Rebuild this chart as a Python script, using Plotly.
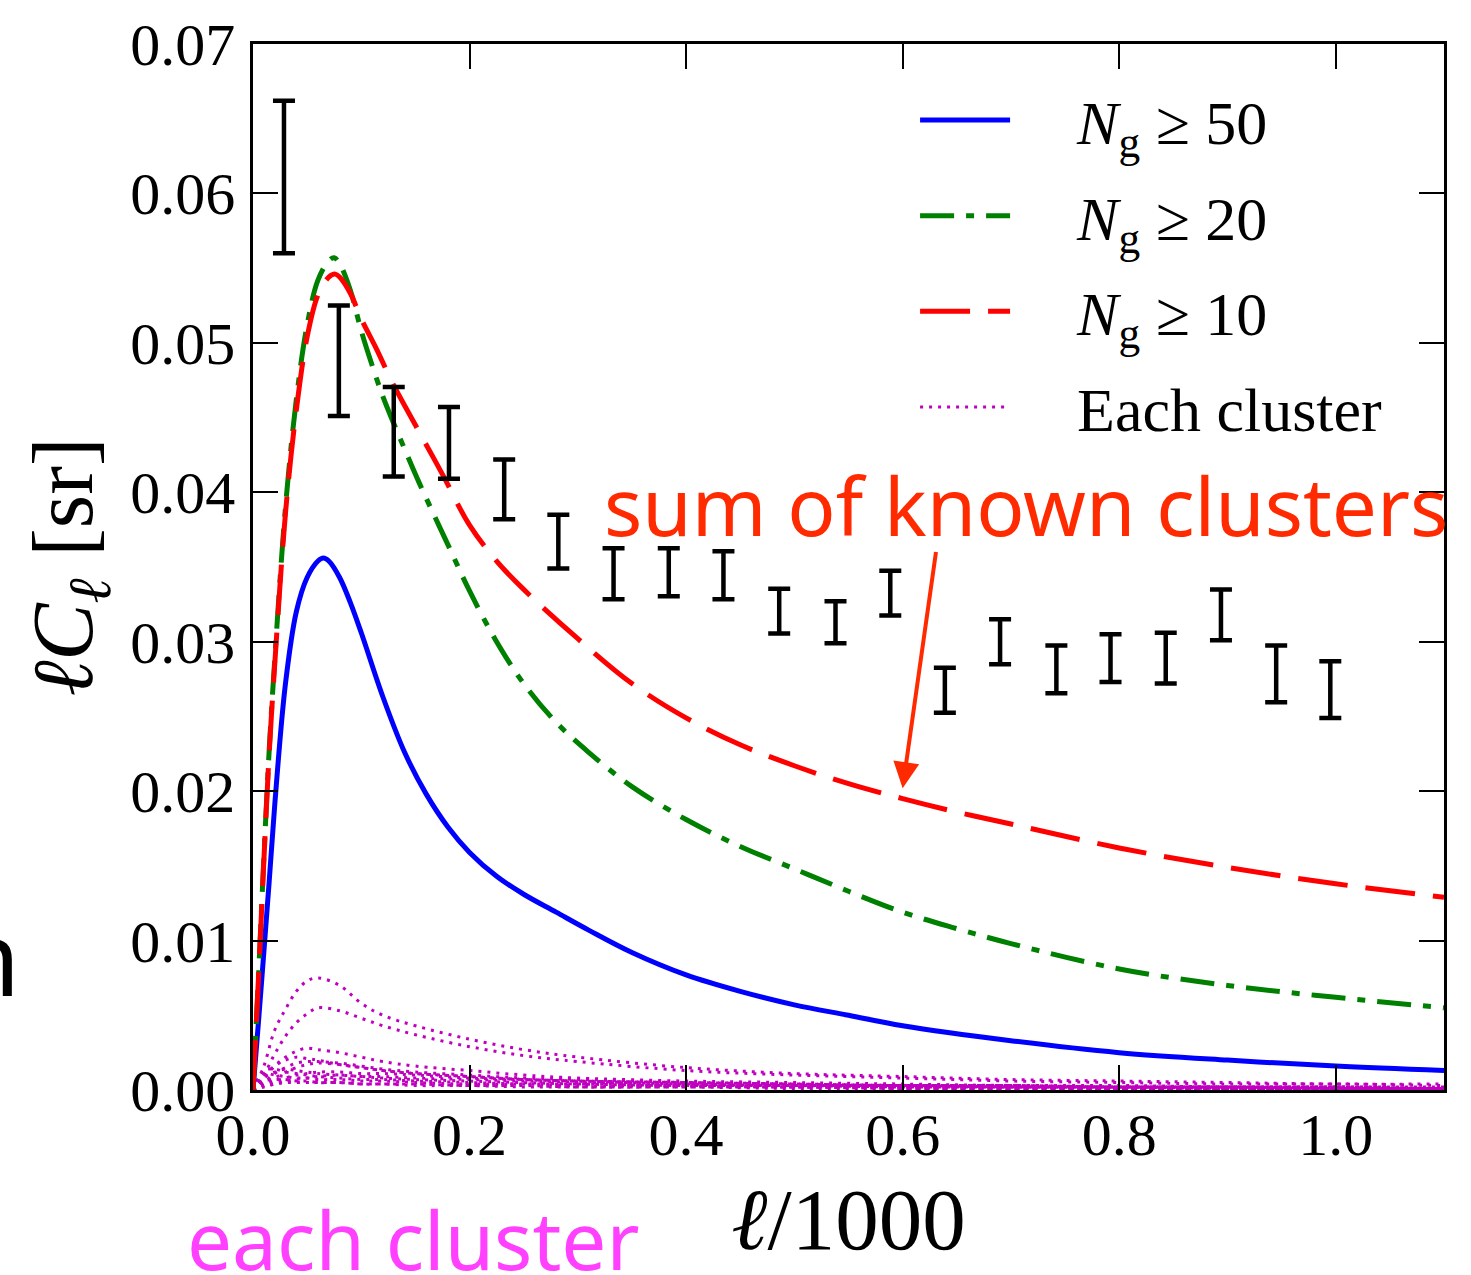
import plotly.graph_objects as go

# ---------------- data ----------------
blue_x = [0.0, 0.005, 0.01, 0.015, 0.02, 0.03, 0.04, 0.05, 0.06, 0.065, 0.07, 0.08, 0.09, 0.10,
          0.12, 0.14, 0.16, 0.18, 0.20, 0.225, 0.25, 0.28, 0.31, 0.35, 0.40, 0.45, 0.50, 0.55,
          0.60, 0.70, 0.80, 0.90, 1.00, 1.10]
blue_y = [0.0, 0.0045, 0.0092, 0.0140, 0.0190, 0.0272, 0.0320, 0.0343, 0.0354, 0.0356, 0.0354,
          0.0343, 0.0326, 0.0306, 0.0263, 0.0226, 0.0198, 0.0176, 0.0159, 0.0143, 0.0131, 0.0119,
          0.0107, 0.0092, 0.0077, 0.0066, 0.0057, 0.0050, 0.0043, 0.0033, 0.0025, 0.0020, 0.0016,
          0.0013]

green_x = [0.0, 0.005, 0.01, 0.015, 0.02, 0.03, 0.04, 0.05, 0.06, 0.07, 0.075, 0.08, 0.09, 0.10,
           0.11, 0.12, 0.13, 0.14, 0.15, 0.16, 0.18, 0.20, 0.225, 0.25, 0.28, 0.31, 0.35, 0.40,
           0.45, 0.50, 0.55, 0.60, 0.65, 0.70, 0.80, 0.90, 1.00, 1.10]
green_y = [0.0, 0.0075, 0.0155, 0.0228, 0.0287, 0.0390, 0.0462, 0.0512, 0.0542, 0.0555, 0.0557,
           0.0553, 0.0535, 0.0508, 0.0485, 0.0464, 0.0446, 0.0429, 0.0412, 0.0396, 0.0365, 0.0334,
           0.0300, 0.0272, 0.0246, 0.0226, 0.0203, 0.0181, 0.0163, 0.0148, 0.0133, 0.0119, 0.0108,
           0.0098, 0.0081, 0.0070, 0.0062, 0.0055]

red_x = [0.0, 0.005, 0.01, 0.015, 0.02, 0.03, 0.04, 0.05, 0.06, 0.07, 0.076, 0.08, 0.09, 0.10,
         0.114, 0.129, 0.15, 0.175, 0.20, 0.225, 0.25, 0.30, 0.35, 0.40, 0.45, 0.50, 0.55, 0.60,
         0.65, 0.70, 0.80, 0.90, 1.00, 1.10]
red_y = [0.0, 0.0074, 0.0153, 0.0226, 0.0284, 0.0386, 0.0455, 0.0504, 0.0532, 0.0544, 0.0546,
         0.0544, 0.0533, 0.0516, 0.0496, 0.0473, 0.0445, 0.0412, 0.0378, 0.0354, 0.0335, 0.0302,
         0.0272, 0.0249, 0.0231, 0.0217, 0.0205, 0.0195, 0.0186, 0.0178, 0.0162, 0.0149, 0.0138,
         0.0129]

# individual clusters (dotted magenta)
cluster_x = [0.0, 0.01, 0.02, 0.03, 0.04, 0.05, 0.06, 0.08, 0.10, 0.12, 0.15, 0.20, 0.25, 0.30,
             0.40, 0.50, 0.60, 0.70, 0.80, 0.90, 1.00, 1.10]
cluster_a = [0, 0.0016, 0.0040, 0.0054, 0.0066, 0.0073, 0.0075, 0.0070, 0.0058, 0.0050, 0.0043,
             0.0034, 0.0027, 0.0022, 0.0015, 0.0011, 0.0009, 0.0007, 0.0006, 0.0005, 0.0004, 0.0004]
cluster_b = [0, 0.0010, 0.0024, 0.0036, 0.0045, 0.0051, 0.0055, 0.0053, 0.0048, 0.0043, 0.0037,
             0.0029, 0.0023, 0.0019, 0.0013, 0.0010, 0.0008, 0.0006, 0.0005, 0.0004, 0.0004, 0.0003]
cluster_c = [0, 0.0008, 0.0016, 0.0022, 0.0026, 0.0028, 0.0027, 0.0025, 0.0022, 0.0019, 0.0016,
             0.0013, 0.0010, 0.0008, 0.0006, 0.0005, 0.0004, 0.0003, 0.0003, 0.0002, 0.0002, 0.0002]
cluster_d = [0, 0.0009, 0.0016, 0.0020, 0.0022, 0.0021, 0.0020, 0.0017, 0.0015, 0.0013, 0.0011,
             0.0009, 0.0007, 0.0006, 0.0005, 0.0004, 0.0003, 0.0003, 0.0002, 0.0002, 0.0002, 0.0001]
cluster_e = [0, 0.0004, 0.0008, 0.0012, 0.0015, 0.0017, 0.0018, 0.0017, 0.0015, 0.0013, 0.0011,
             0.0009, 0.0007, 0.0006, 0.0004, 0.0003, 0.0003, 0.0002, 0.0002, 0.0002, 0.0001, 0.0001]
cluster_f = [0, 0.0008, 0.0012, 0.0014, 0.0013, 0.0012, 0.0011, 0.0010, 0.0009, 0.0008, 0.0007,
             0.0006, 0.0005, 0.0004, 0.0003, 0.0003, 0.0002, 0.0002, 0.0002, 0.0001, 0.0001, 0.0001]
cluster_g = [0, 0.0011, 0.0010, 0.0009, 0.0008, 0.0008, 0.0007, 0.0007, 0.0006, 0.0006, 0.0005,
             0.0004, 0.0004, 0.0003, 0.0003, 0.0002, 0.0002, 0.0002, 0.0001, 0.0001, 0.0001, 0.0001]
cluster_h = [0, 0.0002, 0.0004, 0.0006, 0.0007, 0.0008, 0.0009, 0.0010, 0.0009, 0.0009, 0.0008,
             0.0007, 0.0006, 0.0005, 0.0004, 0.0003, 0.0003, 0.0002, 0.0002, 0.0002, 0.0001, 0.0001]
cluster_i = [0, 0.0006, 0.0007, 0.0007, 0.0006, 0.0006, 0.0005, 0.0005, 0.0004, 0.0004, 0.0004,
             0.0003, 0.0003, 0.0002, 0.0002, 0.0002, 0.0001, 0.0001, 0.0001, 0.0001, 0.0001, 0.0]
cluster_j = [0, 0.0003, 0.0004, 0.0005, 0.0005, 0.0005, 0.0005, 0.0005, 0.0004, 0.0004, 0.0003,
             0.0003, 0.0002, 0.0002, 0.0002, 0.0001, 0.0001, 0.0001, 0.0001, 0.0001, 0.0, 0.0]
cluster_k = [0, 0.0005, 0.0011, 0.0015, 0.0018, 0.0019, 0.0019, 0.0018, 0.0016, 0.0014, 0.0012,
             0.0010, 0.0008, 0.0007, 0.0005, 0.0004, 0.0003, 0.0003, 0.0002, 0.0002, 0.0002, 0.0001]
cluster_l = [0, 0.0013, 0.0014, 0.0012, 0.0011, 0.0010, 0.0009, 0.0008, 0.0007, 0.0007, 0.0006,
             0.0005, 0.0004, 0.0004, 0.0003, 0.0002, 0.0002, 0.0002, 0.0001, 0.0001, 0.0001, 0.0001]
cluster_m = [0, 0.0003, 0.0006, 0.0008, 0.0010, 0.0011, 0.0012, 0.0012, 0.0011, 0.0011, 0.0010,
             0.0008, 0.0007, 0.0006, 0.0005, 0.0004, 0.0003, 0.0003, 0.0002, 0.0002, 0.0002, 0.0001]
clusters = [cluster_a, cluster_b, cluster_c, cluster_d, cluster_e, cluster_f, cluster_g,
            cluster_h, cluster_i, cluster_j, cluster_k, cluster_l, cluster_m]

# measured data with error bars
data_x = [0.0286, 0.0793, 0.130, 0.181, 0.232, 0.282, 0.333, 0.384, 0.4345, 0.486, 0.538,
          0.5886, 0.639, 0.690, 0.742, 0.792, 0.843, 0.894, 0.945, 0.995]
data_y = [0.0611, 0.0488, 0.04405, 0.0433, 0.0402, 0.0367, 0.03455, 0.03465, 0.03445, 0.03205,
          0.0313, 0.03325, 0.02675, 0.0300, 0.02815, 0.0289, 0.0289, 0.0318, 0.02785, 0.0268]
data_err = [0.0051, 0.0037, 0.0030, 0.0024, 0.0020, 0.0018, 0.0017, 0.0016, 0.0016, 0.0015,
            0.0014, 0.0015, 0.0015, 0.0015, 0.0016, 0.0016, 0.0017, 0.0017, 0.0019, 0.0019]

x_ticks = [0.0, 0.2, 0.4, 0.6, 0.8, 1.0]
y_ticks = [0.00, 0.01, 0.02, 0.03, 0.04, 0.05, 0.06, 0.07]

# ---------------- figure ----------------
SERIF = "Liberation Serif, Times New Roman, serif"
MAGENTA = "#BF00BF"
EM = "\u2003"

fig = go.Figure()

for i, cy in enumerate(clusters):
    fig.add_trace(go.Scatter(
        x=cluster_x, y=cy, mode="lines", line_shape="spline",
        line=dict(color=MAGENTA, width=3, dash="3px,6px"),
        name=EM + "Each cluster", legendgroup="g4", legendrank=4,
        showlegend=(i == 0), hoverinfo="skip"))

fig.add_trace(go.Scatter(x=blue_x, y=blue_y, mode="lines", line_shape="spline",
                         line=dict(color="#0000FF", width=5),
                         name=EM + "<i>N</i><sub>g</sub> ≥ 50", legendgroup="g1", legendrank=1))
fig.add_trace(go.Scatter(x=green_x, y=green_y, mode="lines", line_shape="spline",
                         line=dict(color="#008000", width=5, dash="34px,12px,8px,12px"),
                         name=EM + "<i>N</i><sub>g</sub> ≥ 20", legendgroup="g2", legendrank=2))
fig.add_trace(go.Scatter(x=red_x, y=red_y, mode="lines", line_shape="spline",
                         line=dict(color="#FF0000", width=5, dash="50px,18px"),
                         name=EM + "<i>N</i><sub>g</sub> ≥ 10", legendgroup="g3", legendrank=3))

fig.add_trace(go.Scatter(x=data_x, y=data_y, mode="markers",
                         marker=dict(size=1, color="black", opacity=0),
                         error_y=dict(type="data", array=data_err, visible=True,
                                      color="black", thickness=4.5, width=11),
                         showlegend=False, hoverinfo="skip"))

axis_common = dict(showline=True, linecolor="black", linewidth=2.5, mirror="ticks",
                   ticks="inside", ticklen=25, tickwidth=2, tickcolor="black",
                   showgrid=False, zeroline=False,
                   tickfont=dict(family=SERIF, size=60, color="black"))

fig.update_xaxes(range=[0, 1.1], tickvals=x_ticks, tickformat=".1f",
                 ticklabelstandoff=-10,
                 title=dict(text="<i>ℓ</i>/1000", font=dict(family=SERIF, size=87, color="black"),
                            standoff=22),
                 **axis_common)
fig.update_yaxes(range=[0, 0.07], tickvals=y_ticks, tickformat=".2f",
                 ticklabelstandoff=3,
                 title=dict(text="<i>ℓC</i><sub><i>ℓ</i></sub> [sr]",
                            font=dict(family=SERIF, size=86, color="black"), standoff=10),
                 **axis_common)

fig.update_layout(
    width=1471, height=1275,
    margin=dict(l=253, r=27, t=40, b=185),
    paper_bgcolor="white", plot_bgcolor="white",
    legend=dict(x=0.5559, y=0.972, xanchor="left", yanchor="top",
                bgcolor="rgba(0,0,0,0)", borderwidth=0, itemwidth=90,
                tracegroupgap=12, traceorder="grouped",
                font=dict(family=SERIF, size=62, color="black")),
    annotations=[
        dict(x=0.600, y=0.0202, ax=0.631, ay=0.0361, xref="x", yref="y", axref="x", ayref="y",
             text="", showarrow=True, arrowhead=2, arrowsize=1.3, arrowwidth=4,
             arrowcolor="#FF2A00"),
        dict(x=0.3225, y=0.0392, xref="x", yref="y", xanchor="left", yanchor="middle",
             text="sum of known clusters", showarrow=False,
             font=dict(family="Noto Sans", size=80, color="#FF2A00")),
        dict(x=-0.0575, y=-0.1420, xref="paper", yref="paper", xanchor="left", yanchor="middle",
             text="each cluster", showarrow=False,
             font=dict(family="Noto Sans", size=80, color="#FF40FF")),
        dict(x=-0.194, y=0.1286, xref="paper", yref="paper", xanchor="right", yanchor="middle",
             text="n", showarrow=False,
             font=dict(family="Noto Sans", size=104, color="black")),
    ],
)

fig.write_html("out.html")
